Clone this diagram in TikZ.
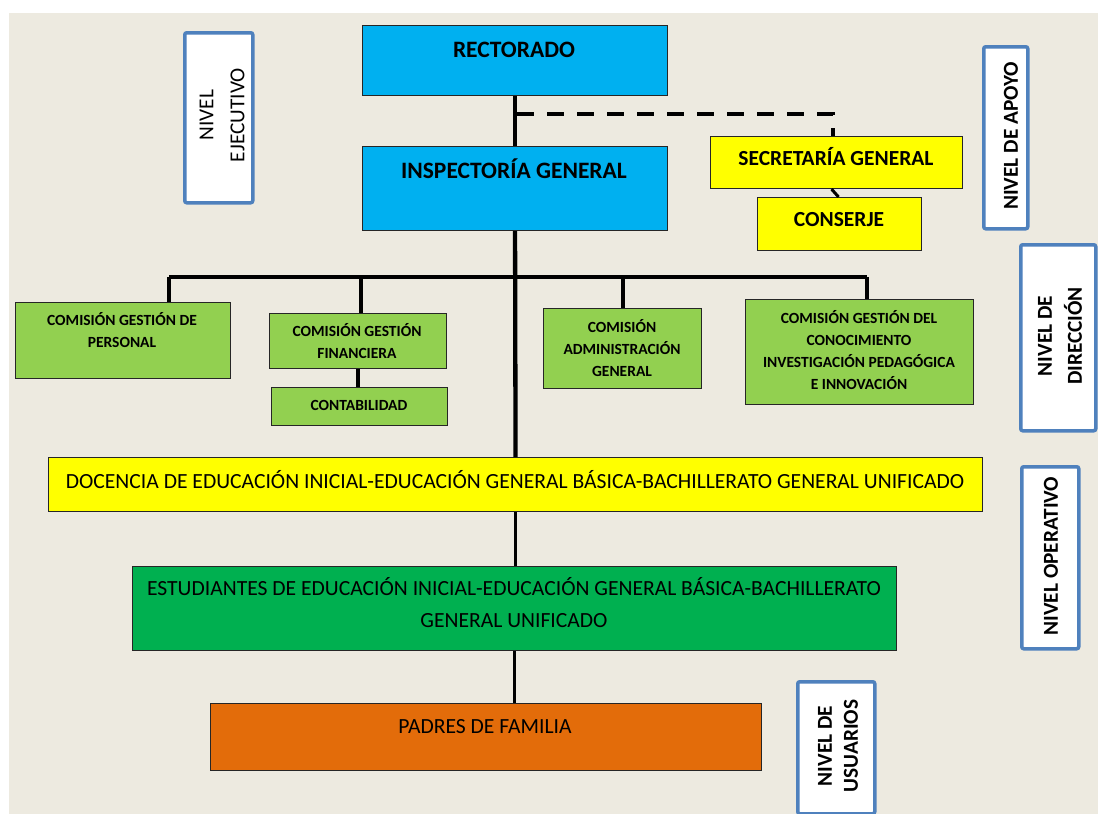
\documentclass[tikz,border=0pt]{standalone}
\usepackage{fontspec}
\setmainfont{Carlito}
\definecolor{pagebg}{RGB}{237,234,224}
\definecolor{cblue}{RGB}{0,176,240}
\definecolor{cyellow}{RGB}{255,255,0}
\definecolor{clgreen}{RGB}{146,208,80}
\definecolor{cdgreen}{RGB}{0,176,80}
\definecolor{corange}{RGB}{227,108,10}
\definecolor{lvlborder}{RGB}{79,129,189}
\begin{document}
\begin{tikzpicture}[x=1pt,y=-1pt,
  orgbox/.style={draw=black!85, line width=1.1pt, inner sep=0pt, anchor=north west},
  lvlbox/.style={draw=lvlborder, fill=white, line width=3.5pt, rounded corners=2pt, inner sep=0pt, anchor=north west},
  bigtxt/.style={font=\bfseries\fontsize{23.5}{28}\selectfont, inner sep=0pt, anchor=base},
  midtxt/.style={font=\bfseries\fontsize{21.5}{26}\selectfont, inner sep=0pt, anchor=base},
  smalltxt/.style={font=\bfseries\fontsize{15.5}{22}\selectfont, inner sep=0pt, anchor=base, align=center},
  plaintxt/.style={font=\fontsize{21.6}{32}\selectfont, inner sep=0pt, anchor=base, align=center},
  lvltxt/.style={font=\bfseries\fontsize{21.3}{30}\selectfont, inner sep=0pt, rotate=90, align=center},
  lvltxtreg/.style={font=\fontsize{21.3}{31}\selectfont, inner sep=0pt, rotate=90, align=center},
  heavy/.style={line width=4.3pt},
  medium/.style={line width=3pt},
  dashline/.style={line width=4pt, dash pattern=on 17pt off 13pt}
]
% page and backdrop
\useasboundingbox (0,0) rectangle (1098,814);
\fill[white] (0,0) rectangle (1098,814);
\fill[pagebg] (9,13) rectangle (1098,814);

% level markers
\node[lvlbox, minimum width=68pt, minimum height=170pt] (lvEje) at (183,31) {};
\node[lvltxtreg] (lvEjeT) at (222,115) {NIVEL\\EJECUTIVO};
\node[lvlbox, minimum width=44pt, minimum height=182pt] (lvApo) at (982,45) {};
\node[lvltxt] (lvApoT) at (1011,136) {NIVEL DE APOYO};
\node[lvlbox, minimum width=75pt, minimum height=186pt] (lvDir) at (1019,243) {};
\node[lvltxt] (lvDirT) at (1060,336) {NIVEL DE\\DIRECCIÓN};
\node[lvlbox, minimum width=57pt, minimum height=182pt] (lvOpe) at (1020,465) {};
\node[lvltxt] (lvOpeT) at (1051,556) {NIVEL OPERATIVO};
\node[lvlbox, minimum width=77pt, minimum height=132pt] (lvUsu) at (796,680) {};
\node[lvltxt, font=\bfseries\fontsize{21.3}{26}\selectfont] (lvUsuT) at (838,746) {NIVEL DE\\USUARIOS};

% organisational units
\node[orgbox, fill=cblue, minimum width=305pt, minimum height=70pt] (rect) at (362,25) {};
\node[orgbox, fill=cblue, minimum width=305pt, minimum height=84pt] (insp) at (362,146) {};
\node[orgbox, fill=cyellow, minimum width=252pt, minimum height=52pt] (sec) at (710,136) {};
\node[orgbox, fill=cyellow, minimum width=164pt, minimum height=53pt] (cons) at (757,197) {};
\node[orgbox, fill=clgreen, minimum width=215pt, minimum height=76pt] (pers) at (15,302) {};
\node[orgbox, fill=clgreen, minimum width=177pt, minimum height=55pt] (fin) at (269,313) {};
\node[orgbox, fill=clgreen, minimum width=176pt, minimum height=38pt] (cont) at (271,387) {};
\node[orgbox, fill=clgreen, minimum width=158pt, minimum height=80pt] (adm) at (543,308) {};
\node[orgbox, fill=clgreen, minimum width=228pt, minimum height=105pt] (cono) at (745,299) {};
\node[orgbox, fill=cyellow, minimum width=934pt, minimum height=54pt] (doc) at (48,457) {};
\node[orgbox, fill=cdgreen, minimum width=764pt, minimum height=84pt] (est) at (132,566) {};
\node[orgbox, fill=corange, minimum width=551pt, minimum height=67pt] (pad) at (210,703) {};

% unit captions (base anchor sits on the last line)
\node[bigtxt] (rectT) at (514,57) {RECTORADO};
\node[bigtxt] (inspT) at (514,178) {INSPECTORÍA GENERAL};
\node[midtxt] (secT) at (836,165) {SECRETARÍA GENERAL};
\node[midtxt] (consT) at (839,226) {CONSERJE};
\node[smalltxt] (persT) at (122,347) {COMISIÓN GESTIÓN DE\\PERSONAL};
\node[smalltxt] (finT) at (357,358) {COMISIÓN GESTIÓN\\FINANCIERA};
\node[smalltxt] (contT) at (359,410) {CONTABILIDAD};
\node[smalltxt] (admT) at (622,376) {COMISIÓN\\ADMINISTRACIÓN\\GENERAL};
\node[smalltxt] (conoT) at (859,389) {COMISIÓN GESTIÓN DEL\\CONOCIMIENTO\\INVESTIGACIÓN PEDAGÓGICA\\E INNOVACIÓN};
\node[plaintxt] (docT) at (515,488) {DOCENCIA DE EDUCACIÓN INICIAL-EDUCACIÓN GENERAL BÁSICA-BACHILLERATO GENERAL UNIFICADO};
\node[plaintxt] (estT) at (514,627) {ESTUDIANTES DE EDUCACIÓN INICIAL-EDUCACIÓN GENERAL BÁSICA-BACHILLERATO\\GENERAL UNIFICADO};
\node[plaintxt] (padT) at (485,733) {PADRES DE FAMILIA};

% junctions on the committee bar
\coordinate (jP) at (169,277);
\coordinate (jF) at (361,277);
\coordinate (jA) at (623,277);
\coordinate (jC) at (867,277);
\coordinate (dStart) at (515,114);
\coordinate (dCorner) at (833,114);

% main line of authority
\draw[heavy] (rect.south) -- (insp.north);
\draw[heavy] (insp.south) -- (doc.north);
\draw[medium] (doc.south) -- (doc.south |- est.north);
\draw[medium] (est.south) -- (est.south |- pad.north);

% committees
\draw[heavy] (jP) -- (jC);
\draw[heavy] (jP) -- (jP |- pers.north);
\draw[heavy] (jF) -- (jF |- fin.north);
\draw[heavy] (jA) -- (jA |- adm.north);
\draw[heavy] (jC) -- (jC |- cono.north);
\draw[heavy] (fin.south) -- (fin.south |- cont.north);

% support staff
\draw[dashline] ([xshift=2pt]dStart) -- (dCorner) -- (dCorner |- sec.north);
\draw[medium] ([xshift=-5pt]sec.south) -- ([xshift=-1pt]cons.north);
\end{tikzpicture}
\end{document}
